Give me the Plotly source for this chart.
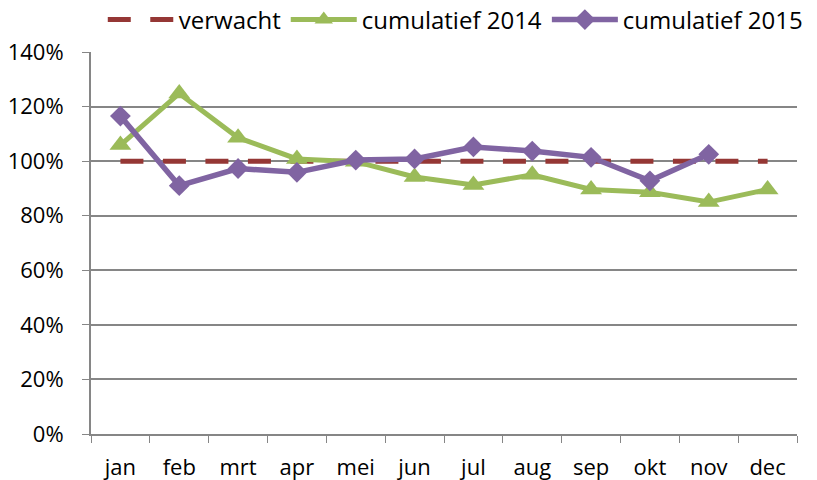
import plotly.graph_objects as go

months = ["jan", "feb", "mrt", "apr", "mei", "jun", "jul", "aug", "sep", "okt", "nov", "dec"]
verwacht = [100] * 12
cum2014 = [105.9, 124.8, 108.6, 100.8, 99.8, 94.2, 91.3, 95.0, 89.6, 88.6, 85.0, 89.6]
cum2015 = [116.5, 91.0, 97.3, 95.9, 100.4, 100.8, 105.2, 103.7, 101.4, 92.8, 102.5]
ytick_vals = [0, 20, 40, 60, 80, 100, 120, 140]
ytick_text = ["0%", "20%", "40%", "60%", "80%", "100%", "120%", "140%"]

FONT = "Open Sans"
FS = 22

fig = go.Figure()
fig.add_trace(go.Scatter(x=months, y=verwacht, name="verwacht", mode="lines",
                         line=dict(color="#953735", width=5, dash="23px,19.5px")))
fig.add_trace(go.Scatter(x=months, y=cum2014, name="cumulatief 2014", mode="lines+markers",
                         line=dict(color="#9BBB59", width=5),
                         marker=dict(symbol="triangle-up", size=19, color="#9BBB59")))
fig.add_trace(go.Scatter(x=months[:len(cum2015)], y=cum2015, name="cumulatief 2015", mode="lines+markers",
                         line=dict(color="#8064A2", width=5.5),
                         marker=dict(symbol="diamond", size=16, color="#8064A2")))

fig.update_layout(
    width=817, height=480,
    margin=dict(l=83, r=28, t=44, b=54, autoexpand=False),
    paper_bgcolor="white", plot_bgcolor="white",
    font=dict(family=FONT, size=FS, color="black"),
    showlegend=True,
    legend=dict(orientation="h", xref="container", x=0.116, xanchor="left",
                yref="container", y=0.975, yanchor="middle",
                font=dict(family=FONT, size=24), traceorder="normal",
                itemwidth=66, bgcolor="rgba(0,0,0,0)", tracegroupgap=0),
    xaxis=dict(type="category", range=[-0.5, 11.5], tickson="boundaries",
               ticks="outside", ticklen=7, tickcolor="#868686", tickwidth=1,
               showline=True, linecolor="#868686", linewidth=2,
               showgrid=False, ticklabelstandoff=13, automargin=False,
               tickfont=dict(family=FONT, size=FS)),
    yaxis=dict(range=[0, 140], tickvals=ytick_vals, ticktext=ytick_text,
               ticks="outside", ticklen=7, tickcolor="#868686",
               showline=True, linecolor="#868686", linewidth=2,
               showgrid=True, gridcolor="#868686", gridwidth=1.5,
               ticklabelstandoff=14, automargin=False,
               zeroline=False, tickfont=dict(family=FONT, size=FS)),
)

fig.write_html("out.html")
